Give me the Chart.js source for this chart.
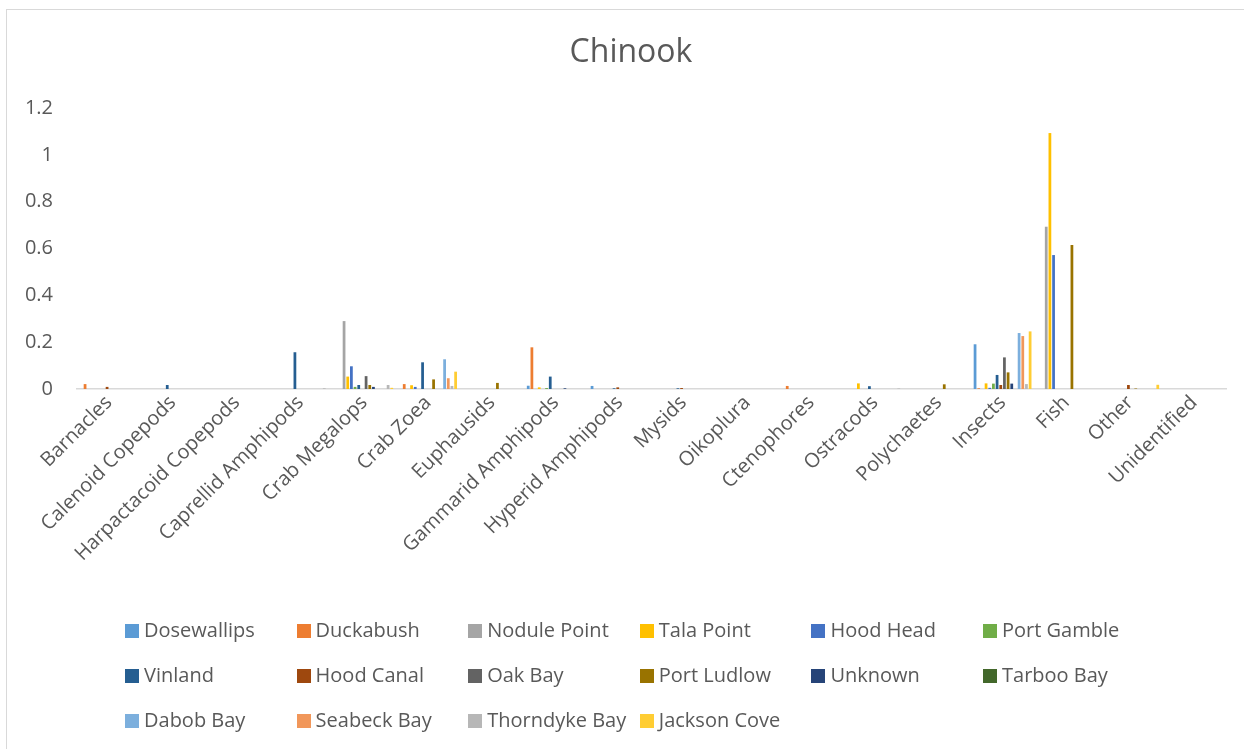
<!DOCTYPE html>
<html>
<head>
    <title>Chinook</title>
    <style>
        body { margin: 0; background: #fff; }
        .wrap { position: relative; width: 1244px; height: 749px; overflow: hidden; }
        .frame { position: absolute; left: 6px; top: 9px; width: 1300px; height: 800px; border: 1px solid #d9d9d9; }
        canvas { position: absolute; left: 0; top: 0; }
        .legend-item { position: absolute; font: 20px "Open Sans", sans-serif; color: #595959; white-space: nowrap; line-height: 28px; height: 28px; }
        .legend-item span.box { display: inline-block; width: 14px; height: 14px; margin-right: 5px; vertical-align: -1px; }
    </style>
</head>
<body>
    <div class="wrap">
        <div class="frame"></div>
        <canvas id="chartId" width="1244" height="749"></canvas>
        <div id="legendBox"></div>
    </div>

    <script src="https://cdn.jsdelivr.net/npm/chart.js@4.4.0/dist/chart.umd.min.js"></script>

    <script>
        // prey categories
        var categories = ["Barnacles", "Calenoid Copepods", "Harpactacoid Copepods", "Caprellid Amphipods",
            "Crab Megalops", "Crab Zoea", "Euphausids", "Gammarid Amphipods", "Hyperid Amphipods", "Mysids",
            "Oikoplura", "Ctenophores", "Ostracods", "Polychaetes", "Insects", "Fish", "Other", "Unidentified"];

        // one array per site, same order as categories
        var dosewallips = [0, 0, 0, 0, 0, 0, 0, 0.014, 0.013, 0, 0, 0, 0, 0, 0.191, 0, 0, 0];
        var duckabush   = [0.021, 0, 0, 0, 0, 0.021, 0, 0.178, 0, 0, 0, 0.013, 0, 0, 0.003, 0, 0, 0];
        var nodulePoint = [0, 0, 0, 0, 0.29, 0, 0, 0, 0, 0, 0, 0, 0, 0, 0, 0.693, 0, 0];
        var talaPoint   = [0, 0, 0, 0, 0.053, 0.016, 0, 0.007, 0, 0, 0, 0, 0.024, 0, 0.024, 1.093, 0, 0];
        var hoodHead    = [0, 0, 0, 0, 0.097, 0.009, 0, 0, 0, 0, 0, 0, 0, 0, 0.005, 0.572, 0, 0];
        var portGamble  = [0, 0, 0, 0, 0.009, 0, 0, 0.004, 0, 0, 0, 0, 0, 0, 0.023, 0, 0, 0];
        var vinland     = [0, 0.017, 0, 0.157, 0.017, 0.114, 0, 0.053, 0.003, 0.003, 0, 0, 0.012, 0, 0.06, 0, 0, 0];
        var hoodCanal   = [0.009, 0, 0, 0, 0, 0, 0, 0, 0.007, 0.004, 0, 0, 0, 0, 0.017, 0, 0.017, 0];
        var oakBay      = [0, 0, 0, 0, 0.055, 0, 0, 0, 0, 0, 0, 0, 0, 0, 0.135, 0, 0, 0];
        var portLudlow  = [0, 0, 0, 0, 0.017, 0.041, 0.026, 0, 0, 0, 0, 0, 0, 0.02, 0.071, 0.615, 0.002, 0];
        var unknown     = [0, 0, 0, 0, 0.009, 0, 0, 0.003, 0, 0, 0, 0, 0, 0, 0.023, 0, 0, 0];
        var tarbooBay   = [0, 0, 0, 0, 0, 0, 0, 0, 0, 0, 0, 0, 0, 0, 0, 0, 0, 0];
        var dabobBay    = [0, 0, 0, 0, 0, 0.127, 0, 0, 0, 0, 0, 0, 0, 0, 0.239, 0, 0, 0];
        var seabeckBay  = [0, 0, 0, 0, 0, 0.046, 0, 0, 0, 0, 0, 0, 0, 0, 0.226, 0, 0, 0];
        var thorndyke   = [0, 0, 0, 0.003, 0.017, 0.013, 0, 0, 0, 0, 0, 0, 0.002, 0, 0.021, 0, 0, 0];
        var jacksonCove = [0, 0, 0, 0, 0.005, 0.074, 0, 0, 0, 0, 0, 0, 0, 0, 0.246, 0, 0.018, 0];

        var seriesNames = ["Dosewallips", "Duckabush", "Nodule Point", "Tala Point", "Hood Head", "Port Gamble",
            "Vinland", "Hood Canal", "Oak Bay", "Port Ludlow", "Unknown", "Tarboo Bay",
            "Dabob Bay", "Seabeck Bay", "Thorndyke Bay", "Jackson Cove"];
        var seriesValues = [dosewallips, duckabush, nodulePoint, talaPoint, hoodHead, portGamble,
            vinland, hoodCanal, oakBay, portLudlow, unknown, tarbooBay,
            dabobBay, seabeckBay, thorndyke, jacksonCove];
        var seriesColors = ["#5B9BD5", "#ED7D31", "#A5A5A5", "#FFC000", "#4472C4", "#70AD47",
            "#255E91", "#9E480E", "#636363", "#997300", "#264478", "#43682B",
            "#7CAFDD", "#F1975A", "#B7B7B7", "#FFCD33"];

        var yTicks = [0, 0.2, 0.4, 0.6, 0.8, 1, 1.2];

        var datasets = seriesNames.map(function (name, i) {
            return {
                label: name,
                data: seriesValues[i],
                backgroundColor: seriesColors[i],
                borderWidth: 0,
                categoryPercentage: 0.92,
                barPercentage: 0.75
            };
        });

        var textColor = '#595959';

        // title drawn by hand so it sits over the middle of the whole picture
        var titlePlugin = {
            id: 'chinookTitle',
            afterDraw: function (chart) {
                var ctx = chart.ctx;
                ctx.save();
                ctx.fillStyle = textColor;
                ctx.font = '32px "Open Sans"';
                ctx.textAlign = 'center';
                ctx.textBaseline = 'middle';
                ctx.fillText('Chinook', 631, 53);
                ctx.restore();
            }
        };

        var chrt = document.getElementById("chartId").getContext("2d");
        var chartId = new Chart(chrt, {
            type: 'bar',
            data: { labels: categories, datasets: datasets },
            plugins: [titlePlugin],
            options: {
                responsive: false,
                animation: false,
                layout: { padding: { left: 0, right: 18, top: 108, bottom: 160 } },
                scales: {
                    x: {
                        grid: { display: true, drawOnChartArea: false, drawTicks: false },
                        border: { display: true, color: '#d9d9d9', width: 1.5 },
                        ticks: {
                            color: textColor,
                            font: { family: 'Open Sans', size: 20 },
                            autoSkip: false,
                            maxRotation: 45,
                            minRotation: 45,
                            padding: 2
                        },
                        afterFit: function (scale) { scale.height = 200; }
                    },
                    y: {
                        min: 0,
                        max: 1.2,
                        grid: { display: false, drawTicks: false },
                        border: { display: false },
                        afterBuildTicks: function (scale) {
                            scale.ticks = yTicks.map(function (v) { return { value: v }; });
                        },
                        ticks: {
                            color: textColor,
                            font: { family: 'Open Sans', size: 20 },
                            padding: 24,
                            callback: function (v) { return String(Math.round(v * 10) / 10); }
                        },
                        afterFit: function (scale) { scale.width = 77; }
                    }
                },
                plugins: {
                    legend: { display: false },
                    tooltip: { enabled: false },
                    title: { display: false }
                }
            }
        });

        // legend drawn as html, 6 columns x 3 rows like the original
        var legendBox = document.getElementById('legendBox');
        seriesNames.forEach(function (name, i) {
            var col = i % 6, row = Math.floor(i / 6);
            var item = document.createElement('div');
            item.className = 'legend-item';
            item.style.left = (125 + col * 171.6) + 'px';
            item.style.top = (630 + row * 45 - 14) + 'px';
            item.innerHTML = '<span class="box" style="background:' + seriesColors[i] + '"></span>' + name;
            legendBox.appendChild(item);
        });
    </script>
</body>
</html>
